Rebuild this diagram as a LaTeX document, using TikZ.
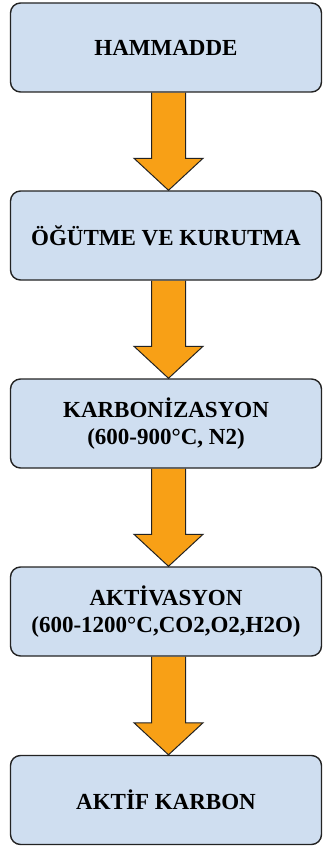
\documentclass[tikz,border=0pt]{standalone}
\usepackage{fontspec}
\setmainfont{Liberation Serif}
\usetikzlibrary{calc,backgrounds}
\definecolor{boxblue}{RGB}{207,222,240}
\definecolor{arrorange}{RGB}{248,160,22}
\definecolor{edgegray}{RGB}{35,35,35}
% block arrow from the bottom of #1 to the top of #2
\newcommand{\flowarrow}[2]{%
\draw[blockarrow] ($(#1.south)+(-14.5,0)$) -- ($(#2.north)+(-14.5,32)$)
  -- ($(#2.north)+(-32,32)$) -- ($(#2.north)+(2.5,0)$)
  -- ($(#2.north)+(37,32)$) -- ($(#2.north)+(19.5,32)$)
  -- ($(#1.south)+(19.5,0)$);}
\begin{document}
\begin{tikzpicture}[x=1pt,y=1pt,
  stage/.style={draw=edgegray,line width=1.4pt,fill=boxblue,rounded corners=10pt,
    minimum width=311pt,minimum height=89pt,inner sep=0pt,align=center,
    font=\fontsize{23}{27}\selectfont\bfseries},
  blockarrow/.style={draw=edgegray,line width=1pt,fill=arrorange,line join=miter}]
\useasboundingbox (0,0) rectangle (323,-848);
\node [stage] (ham) at (166,-47.5) {HAMMADDE};
\node [stage] (ogut) at (166,-235.5) {ÖĞÜTME VE KURUTMA};
\node [stage] (karb) at (166,-423.5) {KARBONİZASYON\\(600-900°C, N2)};
\node [stage] (akt) at (166,-611.5) {AKTİVASYON\\(600-1200°C,CO2,O2,H2O)};
\node [stage] (son) at (166,-800) {AKTİF KARBON};
\begin{scope}[on background layer]
\flowarrow{ham}{ogut}
\flowarrow{ogut}{karb}
\flowarrow{karb}{akt}
\flowarrow{akt}{son}
\end{scope}
\end{tikzpicture}
\end{document}
